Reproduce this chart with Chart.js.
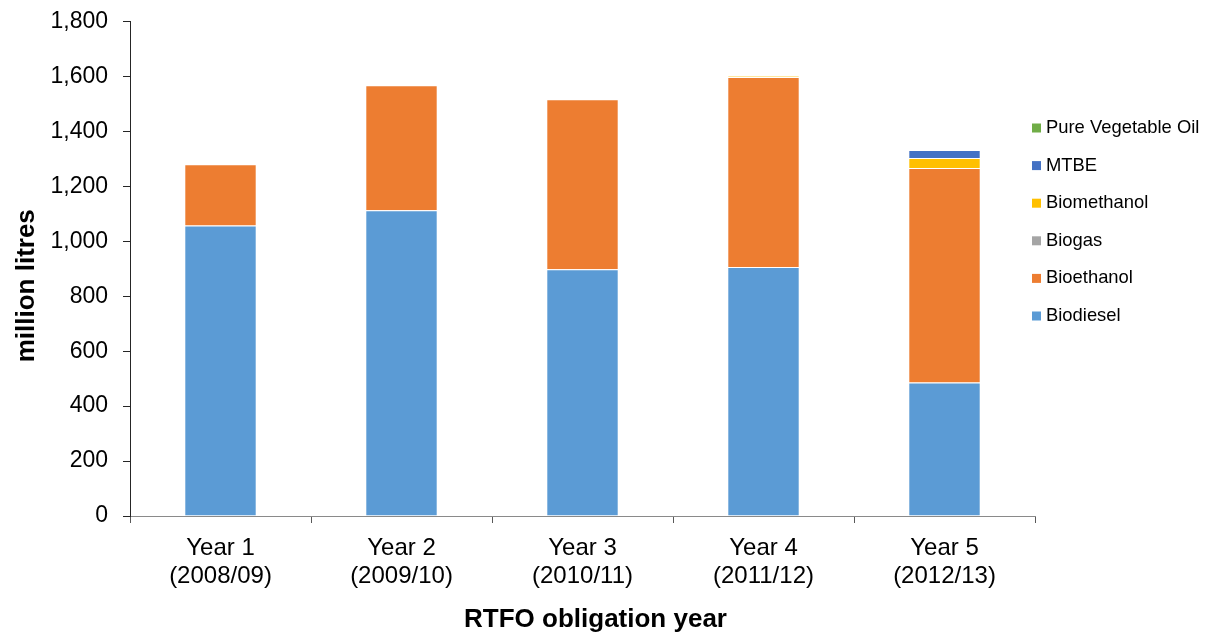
<!DOCTYPE html>
<html>
<head>
<meta charset="utf-8">
<title>RTFO renewable fuel volumes</title>
<script src="https://cdn.jsdelivr.net/npm/chart.js@4/dist/chart.umd.min.js"></script>
<style>
  html, body { margin: 0; padding: 0; background: #ffffff; }
  #wrap { width: 1206px; height: 635px; }
</style>
</head>
<body>
<div id="wrap"><canvas id="chart" width="1206" height="635"></canvas></div>
<script>
// Obligation years (two-line category labels)
const yearLabels = [
  ['Year 1', '(2008/09)'],
  ['Year 2', '(2009/10)'],
  ['Year 3', '(2010/11)'],
  ['Year 4', '(2011/12)'],
  ['Year 5', '(2012/13)']
];

// Volumes supplied, million litres
const biodiesel     = [1057, 1113, 898, 906, 486];
const bioethanol    = [223, 455, 619, 692, 781];
const biogas        = [0, 0, 0, 0, 0];
const biomethanol   = [0, 0, 0, 3, 36];
const mtbe          = [0, 0, 0, 0, 29];
const vegetableOil  = [0, 0, 0, 0, 0];

const yTicks = { min: 0, max: 1800, step: 200 };

const FONT = "'Liberation Sans', Arial, Helvetica, sans-serif";

const series = [
  { label: 'Biodiesel', data: biodiesel, color: '#5B9BD5' },
  { label: 'Bioethanol', data: bioethanol, color: '#ED7D31' },
  { label: 'Biogas', data: biogas, color: '#A5A5A5' },
  { label: 'Biomethanol', data: biomethanol, color: '#FFC000' },
  { label: 'MTBE', data: mtbe, color: '#4472C4' },
  { label: 'Pure Vegetable Oil', data: vegetableOil, color: '#70AD47' }
];

// Legend drawn to the right of the plot, last series on top
const sideLegend = {
  id: 'sideLegend',
  afterDraw(chart) {
    const ctx = chart.ctx;
    const ds = chart.data.datasets.slice().reverse();
    const x0 = chart.chartArea.right - 3;
    const yStart = 128;
    const gap = 37.6;
    ctx.save();
    ctx.font = '18.4px ' + FONT;
    ctx.textBaseline = 'middle';
    ctx.textAlign = 'left';
    ds.forEach((d, i) => {
      const y = yStart + i * gap;
      ctx.fillStyle = d.backgroundColor;
      ctx.fillRect(x0, y - 4.5, 9, 9);
      ctx.fillStyle = '#000000';
      ctx.fillText(d.label, x0 + 14, y);
    });
    ctx.restore();
  }
};

// Axis titles
const axisTitles = {
  id: 'axisTitles',
  afterDraw(chart) {
    const ctx = chart.ctx;
    const a = chart.chartArea;
    ctx.save();
    ctx.font = 'bold 26px ' + FONT;
    ctx.fillStyle = '#000000';
    ctx.textAlign = 'center';
    ctx.textBaseline = 'middle';
    ctx.fillText('RTFO obligation year', (a.left + a.right) / 2 + 13, 620);
    ctx.translate(27, (a.top + a.bottom) / 2 + 17);
    ctx.rotate(-Math.PI / 2);
    ctx.fillText('million litres', 0, 0);
    ctx.restore();
  }
};

new Chart(document.getElementById('chart'), {
  type: 'bar',
  data: {
    labels: yearLabels,
    datasets: series.map(s => ({
      label: s.label,
      data: s.data,
      backgroundColor: s.color,
      borderColor: 'rgba(255,255,255,0.5)',
      borderWidth: 1,
      barPercentage: 0.4,
      categoryPercentage: 1.0
    }))
  },
  options: {
    responsive: false,
    animation: false,
    devicePixelRatio: 1,
    layout: { padding: { left: 0, right: 171, top: 21.5, bottom: 0 } },
    plugins: {
      legend: { display: false },
      tooltip: { enabled: false }
    },
    scales: {
      x: {
        stacked: true,
        offset: true,
        afterFit(scale) {
          scale.height = 119;
          scale.paddingLeft = 0;
          scale.paddingRight = 0;
        },
        grid: {
          offset: true,
          drawOnChartArea: false,
          drawTicks: true,
          tickLength: 7,
          color: '#595959'
        },
        border: { display: true, color: '#8a8a8a', width: 1 },
        ticks: {
          padding: 11,
          color: '#000000',
          maxRotation: 0,
          autoSkip: false,
          font: { family: FONT, size: 24, lineHeight: 1.17 }
        }
      },
      y: {
        stacked: true,
        min: yTicks.min,
        max: yTicks.max,
        afterFit(scale) {
          scale.width = 130;
          scale.paddingTop = 0;
          scale.paddingBottom = 0;
        },
        grid: {
          drawOnChartArea: false,
          drawTicks: true,
          tickLength: 7,
          color: '#262626'
        },
        border: { display: true, color: '#262626', width: 1 },
        ticks: {
          stepSize: yTicks.step,
          padding: 15,
          color: '#000000',
          font: { family: FONT, size: 23, lineHeight: 1.2 },
          callback: v => Number(v).toLocaleString('en-US')
        }
      }
    }
  },
  plugins: [sideLegend, axisTitles]
});
</script>
</body>
</html>
